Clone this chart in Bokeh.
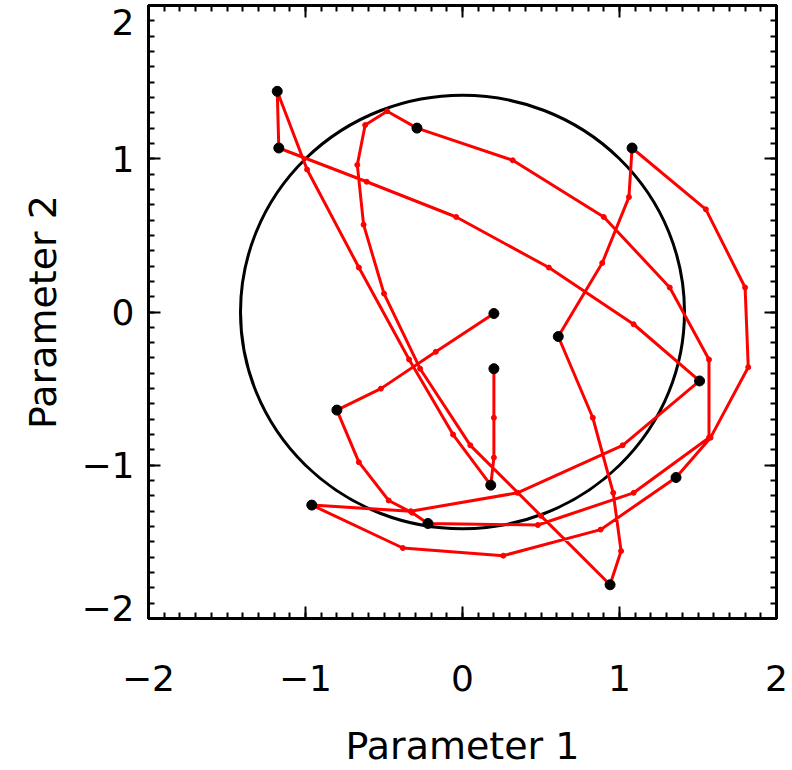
from bokeh.plotting import figure
from bokeh.models import LinearAxis, SingleIntervalTicker, FixedTicker, Range1d
from bokeh.embed import file_html
from bokeh.resources import INLINE

# ---- data ----
path_x = [0.20, -0.17, -0.52, -0.80, -0.66, -0.47, -0.32, -0.22, 0.48, 1.09, 1.57, 1.57, 1.32, 0.90, 0.32,
          -0.29, -0.48, -0.62, -0.67, -0.63, -0.50, -0.27, 0.05, 0.50, 0.94, 1.01, 0.96, 0.83, 0.61, 0.89,
          1.06, 1.08, 1.55, 1.80, 1.82, 1.58, 1.36, 0.88, 0.26, -0.38, -0.96, -0.33, 0.35, 1.02, 1.51, 1.09,
          0.55, -0.04, -0.61, -1.17, -1.18, -0.99, -0.66, -0.34, -0.06, 0.18, 0.20, 0.20, 0.20]
path_y = [-0.01, -0.26, -0.50, -0.64, -0.98, -1.23, -1.31, -1.38, -1.39, -1.18, -0.82, -0.31, 0.16, 0.62, 0.99,
          1.20, 1.31, 1.22, 0.96, 0.57, 0.12, -0.37, -0.87, -1.33, -1.78, -1.56, -1.18, -0.69, -0.16, 0.32,
          0.75, 1.07, 0.67, 0.16, -0.36, -0.82, -1.08, -1.42, -1.59, -1.54, -1.26, -1.30, -1.18, -0.87, -0.45, -0.08,
          0.29, 0.62, 0.85, 1.07, 1.44, 0.93, 0.29, -0.31, -0.80, -1.13, -0.95, -0.69, -0.37]
sample_x = [0.20, -0.80, -0.22, -0.29, 0.94, 0.61, 1.08, 1.36, -0.96, 1.51, -1.17, -1.18, 0.18, 0.20]
sample_y = [-0.01, -0.64, -1.38, 1.20, -1.78, -0.16, 1.07, -1.08, -1.26, -0.45, 1.07, 1.44, -1.13, -0.37]
ring_radius = 1.414
tick_values = [-2, -1, 0, 1, 2]
tick_labels = ["\u22122", "\u22121", "0", "1", "2"]
x_title = "Parameter 1"
y_title = "Parameter 2"

FONT = "DejaVu Sans"

p = figure(width=792, height=770, x_range=Range1d(-2, 2), y_range=Range1d(-2, 2),
           output_backend="svg", toolbar_location=None,
           x_axis_location=None, y_axis_location=None,
           min_border_left=148, min_border_right=16, min_border_top=5, min_border_bottom=152)
p.grid.visible = False
p.outline_line_color = "black"
p.outline_line_width = 3
p.background_fill_color = "white"
p.border_fill_color = "white"


def make_axis(show_labels, title=None):
    ax = LinearAxis(ticker=SingleIntervalTicker(interval=1, num_minor_ticks=10))
    ax.axis_line_width = 3
    ax.major_tick_in = 12
    ax.major_tick_out = 0
    ax.minor_tick_in = 6
    ax.minor_tick_out = 0
    ax.major_tick_line_width = 2
    ax.minor_tick_line_width = 2
    if show_labels:
        ax.major_label_text_font = FONT
        ax.major_label_text_font_size = "36px"
        ax.major_label_text_color = "black"
    else:
        ax.major_label_text_font_size = "1px"
        ax.major_label_text_color = None
        ax.major_label_text_alpha = 0
        ax.major_label_standoff = 0
    if title:
        ax.axis_label = title
        ax.axis_label_text_font = FONT
        ax.axis_label_text_font_size = "38px"
        ax.axis_label_text_font_style = "normal"
        ax.axis_label_text_color = "black"
    return ax


bottom = make_axis(True, x_title)
bottom.major_label_standoff = 46
bottom.axis_label_standoff = 30
bottom.major_label_overrides = {v: t for v, t in zip(tick_values, tick_labels)}
p.add_layout(bottom, "below")

# left side: ticks on the frame, then a label-only axis whose end labels sit inside the box
p.add_layout(make_axis(False), "left")

label_pos = []
for v in tick_values:
    if v == max(tick_values):
        label_pos.append(v - 0.11)
    elif v == min(tick_values):
        label_pos.append(v + 0.07)
    else:
        label_pos.append(float(v))
ylab = LinearAxis(ticker=FixedTicker(ticks=label_pos, minor_ticks=[]))
ylab.axis_line_color = None
ylab.major_tick_line_color = None
ylab.minor_tick_line_color = None
ylab.major_tick_in = 0
ylab.major_tick_out = 0
ylab.minor_tick_in = 0
ylab.minor_tick_out = 0
ylab.major_label_text_font = FONT
ylab.major_label_text_font_size = "36px"
ylab.major_label_text_color = "black"
ylab.major_label_standoff = 14
ylab.major_label_overrides = {pos: t for pos, t in zip(label_pos, tick_labels)}
ylab.axis_label = y_title
ylab.axis_label_text_font = FONT
ylab.axis_label_text_font_size = "38px"
ylab.axis_label_text_font_style = "normal"
ylab.axis_label_text_color = "black"
ylab.axis_label_standoff = 13
p.add_layout(ylab, "left")

p.add_layout(make_axis(False), "above")
p.add_layout(make_axis(False), "right")

# ring
p.ellipse(x=0, y=0, width=2 * ring_radius, height=2 * ring_radius,
          fill_color=None, line_color="black", line_width=3)

# trajectory
p.line(path_x, path_y, line_color="#ff0000", line_width=3)
p.scatter(path_x, path_y, marker="circle", size=5, fill_color="#ff0000", line_color="#ff0000")
p.scatter(sample_x, sample_y, marker="circle", size=10, fill_color="black", line_color="black")

open("out.html", "w").write(file_html(p, INLINE))
